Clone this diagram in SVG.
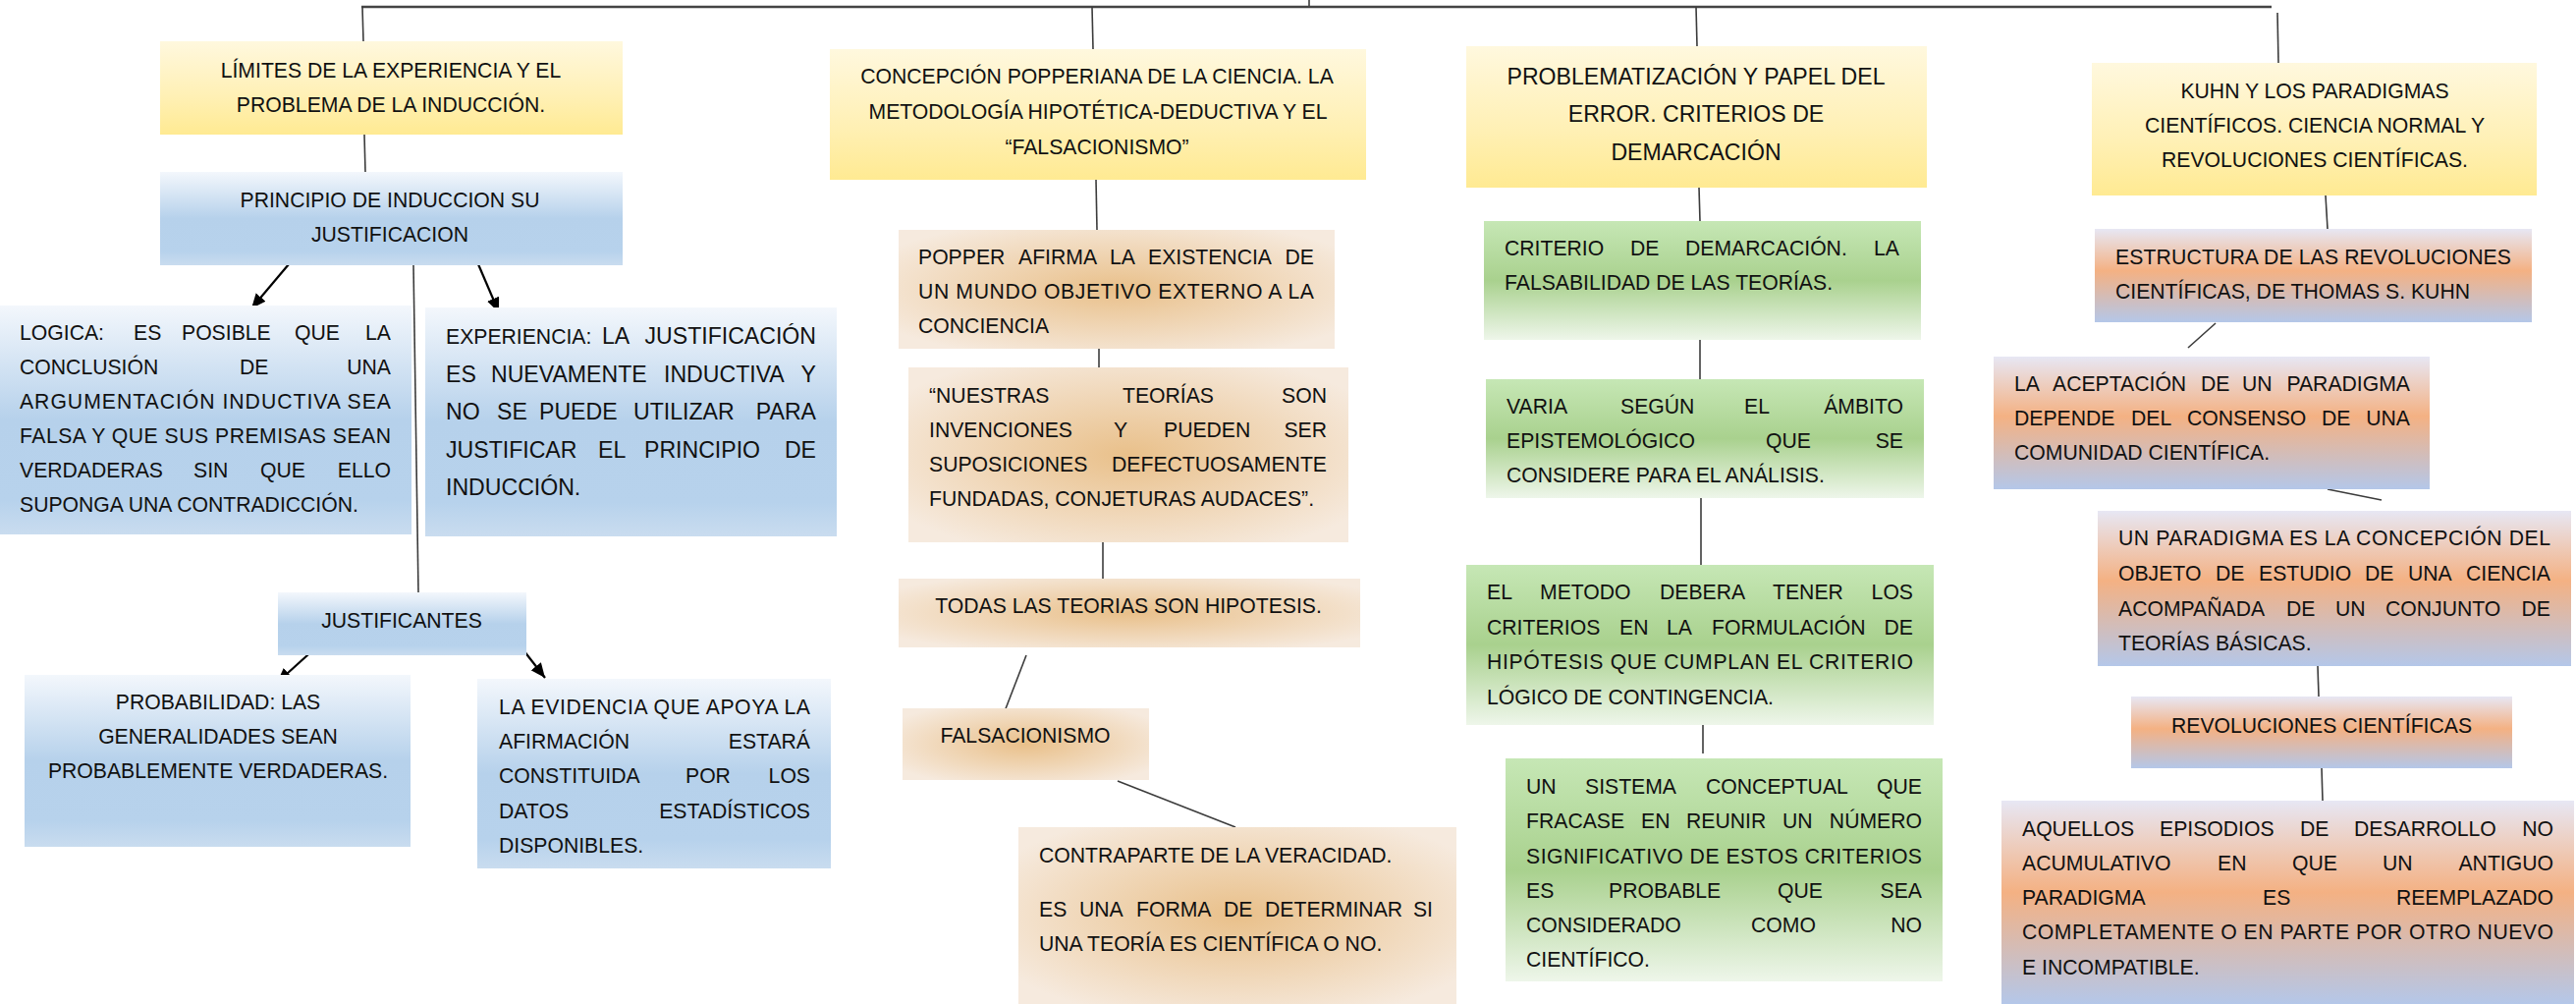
<svg xmlns="http://www.w3.org/2000/svg" width="2623" height="1022" viewBox="0 0 2623 1022">
<style>
text{font-family:"Liberation Sans",Arial,sans-serif;font-size:21.2px;fill:#111}
.b{font-size:23.1px}
.m{text-anchor:middle}
.e{text-anchor:end}
.c{stroke:#3c3c3c;stroke-width:1.6;fill:none}
.a{stroke:#000;stroke-width:2.2;fill:none;marker-end:url(#ah)}
</style>
<defs>
<marker id="ah" markerUnits="userSpaceOnUse" markerWidth="16" markerHeight="14" refX="15" refY="6.5" orient="auto">
<path d="M0,0 L15,6.5 L0,13 z" fill="#000"/>
</marker>
<linearGradient id="gy" x1="0" y1="0" x2="0" y2="1">
<stop offset="0" stop-color="#FFF8DE"/><stop offset="0.6" stop-color="#FFF0B4"/><stop offset="1" stop-color="#FFEA92"/>
</linearGradient>
<linearGradient id="gb" x1="0" y1="0" x2="0" y2="1">
<stop offset="0" stop-color="#F3F7FC"/><stop offset="0.5" stop-color="#B6D1EB"/><stop offset="0.85" stop-color="#B7D2EC"/><stop offset="1" stop-color="#C9DCEF"/>
</linearGradient>
<radialGradient id="gt" cx="0.5" cy="0.5" r="0.62">
<stop offset="0" stop-color="#E9C08A"/><stop offset="1" stop-color="#F6EADE"/>
</radialGradient>
<linearGradient id="gg" x1="0" y1="0" x2="0" y2="1">
<stop offset="0" stop-color="#C6E7B5"/><stop offset="0.5" stop-color="#A9D18E"/><stop offset="1" stop-color="#EEF6EA"/>
</linearGradient>
<linearGradient id="gk" x1="0" y1="0" x2="0" y2="1">
<stop offset="0" stop-color="#E7E7F4"/><stop offset="0.45" stop-color="#F4B183"/><stop offset="1" stop-color="#B4C7E9"/>
</linearGradient>
</defs>
<rect width="2623" height="1022" fill="#fff"/>

<g id="connectors">
<line x1="368" y1="7" x2="2313" y2="7" stroke="#444" stroke-width="2.6"/>
<line class="c" x1="1333" y1="0" x2="1333" y2="6"/>
<line class="c" x1="369" y1="7" x2="370" y2="42"/>
<line class="c" x1="1112" y1="7" x2="1113" y2="50"/>
<line class="c" x1="1727" y1="7" x2="1728" y2="47"/>
<line class="c" x1="2319" y1="13" x2="2320" y2="64"/>
<line class="c" x1="371" y1="137" x2="372" y2="175"/>
<line class="a" x1="294" y1="269" x2="256" y2="314"/>
<line class="a" x1="487" y1="269" x2="508" y2="318"/>
<line class="c" x1="421" y1="270" x2="426" y2="603"/>
<line class="a" x1="323" y1="658" x2="282" y2="695"/>
<line class="a" x1="530" y1="658" x2="555" y2="690"/>
<line class="c" x1="1116" y1="183" x2="1117" y2="234"/>
<line class="c" x1="1119" y1="355" x2="1119" y2="374"/>
<line class="c" x1="1123" y1="552" x2="1123" y2="589"/>
<line class="c" x1="1045" y1="667" x2="1023" y2="724"/>
<line class="c" x1="1138" y1="795" x2="1258" y2="842"/>
<line class="c" x1="1730" y1="191" x2="1731" y2="225"/>
<line class="c" x1="1731" y1="346" x2="1731" y2="386"/>
<line class="c" x1="1732" y1="507" x2="1732" y2="575"/>
<line class="c" x1="1734" y1="738" x2="1734" y2="767"/>
<line class="c" x1="2368" y1="199" x2="2370" y2="233"/>
<line class="c" x1="2256" y1="329" x2="2228" y2="354"/>
<line class="c" x1="2370" y1="498" x2="2425" y2="509"/>
<line class="c" x1="2360" y1="678" x2="2361" y2="709"/>
<line class="c" x1="2364" y1="782" x2="2365" y2="815"/>
</g>

<g id="n-limites">
<rect x="163" y="42" width="471" height="95" fill="url(#gy)"/>
<text class="m" x="398" y="79">LÍMITES DE LA EXPERIENCIA Y EL</text>
<text class="m" x="398" y="114">PROBLEMA DE LA INDUCCIÓN.</text>
</g>

<g id="n-principio">
<rect x="163" y="175" width="471" height="95" fill="url(#gb)"/>
<text class="m" x="397" y="211">PRINCIPIO DE INDUCCION SU</text>
<text class="m" x="397" y="246">JUSTIFICACION</text>
</g>

<g id="n-logica">
<rect x="0" y="311" width="419" height="233" fill="url(#gb)"/>
<text y="346"><tspan x="20">LOGICA:</tspan><tspan x="136">ES</tspan><tspan x="185">POSIBLE</tspan><tspan x="300">QUE</tspan><tspan x="398" class="e">LA</tspan></text>
<text y="381"><tspan x="20">CONCLUSIÓN</tspan><tspan x="244">DE</tspan><tspan x="398" class="e">UNA</tspan></text>
<text x="20" y="416" textLength="378" lengthAdjust="spacing">ARGUMENTACIÓN INDUCTIVA SEA</text>
<text x="20" y="451" textLength="378" lengthAdjust="spacing">FALSA Y QUE SUS PREMISAS SEAN</text>
<text y="486"><tspan x="20">VERDADERAS</tspan><tspan x="197">SIN</tspan><tspan x="265">QUE</tspan><tspan x="398" class="e">ELLO</tspan></text>
<text x="20" y="521">SUPONGA UNA CONTRADICCIÓN.</text>
</g>

<g id="n-experiencia">
<rect x="433" y="313" width="419" height="233" fill="url(#gb)"/>
<text y="350"><tspan x="454">EXPERIENCIA:</tspan><tspan x="613" class="b">LA</tspan><tspan x="831" class="b e">JUSTIFICACIÓN</tspan></text>
<text class="b" y="389"><tspan x="454">ES</tspan><tspan x="500">NUEVAMENTE</tspan><tspan x="676">INDUCTIVA</tspan><tspan x="831" class="e">Y</tspan></text>
<text class="b" y="427"><tspan x="454">NO</tspan><tspan x="506">SE</tspan><tspan x="549">PUEDE</tspan><tspan x="645">UTILIZAR</tspan><tspan x="831" class="e">PARA</tspan></text>
<text class="b" y="466"><tspan x="454">JUSTIFICAR</tspan><tspan x="609">EL</tspan><tspan x="656">PRINCIPIO</tspan><tspan x="831" class="e">DE</tspan></text>
<text class="b" x="454" y="504">INDUCCIÓN.</text>
</g>

<g id="n-justificantes">
<rect x="283" y="603" width="253" height="64" fill="url(#gb)"/>
<text class="m" x="409" y="639">JUSTIFICANTES</text>
</g>

<g id="n-probabilidad">
<rect x="25" y="687" width="393" height="175" fill="url(#gb)"/>
<text class="m" x="222" y="722">PROBABILIDAD: LAS</text>
<text class="m" x="222" y="757">GENERALIDADES SEAN</text>
<text class="m" x="222" y="792">PROBABLEMENTE VERDADERAS.</text>
</g>

<g id="n-evidencia">
<rect x="486" y="691" width="360" height="193" fill="url(#gb)"/>
<text x="508" y="727" textLength="317" lengthAdjust="spacing">LA EVIDENCIA QUE APOYA LA</text>
<text y="762"><tspan x="508">AFIRMACIÓN</tspan><tspan x="825" class="e">ESTARÁ</tspan></text>
<text y="797"><tspan x="508">CONSTITUIDA</tspan><tspan x="698">POR</tspan><tspan x="825" class="e">LOS</tspan></text>
<text y="833"><tspan x="508">DATOS</tspan><tspan x="825" class="e">ESTADÍSTICOS</tspan></text>
<text x="508" y="868">DISPONIBLES.</text>
</g>

<g id="n-concepcion">
<rect x="845" y="50" width="546" height="133" fill="url(#gy)"/>
<text class="m" x="1117" y="85">CONCEPCIÓN POPPERIANA DE LA CIENCIA. LA</text>
<text class="m" x="1118" y="121">METODOLOGÍA HIPOTÉTICA-DEDUCTIVA Y EL</text>
<text class="m" x="1117" y="157">“FALSACIONISMO”</text>
</g>

<g id="n-popper">
<rect x="915" y="234" width="444" height="121" fill="url(#gt)"/>
<text y="269"><tspan x="935">POPPER</tspan><tspan x="1037">AFIRMA</tspan><tspan x="1130">LA</tspan><tspan x="1169">EXISTENCIA</tspan><tspan x="1338" class="e">DE</tspan></text>
<text x="935" y="304" textLength="403" lengthAdjust="spacing">UN MUNDO OBJETIVO EXTERNO A LA</text>
<text x="935" y="339">CONCIENCIA</text>
</g>

<g id="n-nuestras">
<rect x="925" y="374" width="448" height="178" fill="url(#gt)"/>
<text y="410"><tspan x="946">“NUESTRAS</tspan><tspan x="1143">TEORÍAS</tspan><tspan x="1351" class="e">SON</tspan></text>
<text y="445"><tspan x="946">INVENCIONES</tspan><tspan x="1134">Y</tspan><tspan x="1185">PUEDEN</tspan><tspan x="1351" class="e">SER</tspan></text>
<text y="480"><tspan x="946">SUPOSICIONES</tspan><tspan x="1351" class="e">DEFECTUOSAMENTE</tspan></text>
<text x="946" y="515">FUNDADAS, CONJETURAS AUDACES”.</text>
</g>

<g id="n-todas">
<rect x="915" y="589" width="470" height="70" fill="url(#gt)"/>
<text class="m" x="1149" y="624">TODAS LAS TEORIAS SON HIPOTESIS.</text>
</g>

<g id="n-falsacionismo">
<rect x="919" y="721" width="251" height="73" fill="url(#gt)"/>
<text class="m" x="1044" y="756">FALSACIONISMO</text>
</g>

<g id="n-contraparte">
<rect x="1037" y="842" width="446" height="180" fill="url(#gt)"/>
<text x="1058" y="878">CONTRAPARTE DE LA VERACIDAD.</text>
<text y="933"><tspan x="1058">ES</tspan><tspan x="1099">UNA</tspan><tspan x="1157">FORMA</tspan><tspan x="1246">DE</tspan><tspan x="1288">DETERMINAR</tspan><tspan x="1459" class="e">SI</tspan></text>
<text x="1058" y="968">UNA TEORÍA ES CIENTÍFICA O NO.</text>
</g>

<g id="n-problematizacion">
<rect x="1493" y="47" width="469" height="144" fill="url(#gy)"/>
<text class="b m" x="1727" y="86">PROBLEMATIZACIÓN Y PAPEL DEL</text>
<text class="b m" x="1727" y="124">ERROR. CRITERIOS DE</text>
<text class="b m" x="1727" y="163">DEMARCACIÓN</text>
</g>

<g id="n-criterio">
<rect x="1511" y="225" width="445" height="121" fill="url(#gg)"/>
<text y="260"><tspan x="1532">CRITERIO</tspan><tspan x="1660">DE</tspan><tspan x="1716">DEMARCACIÓN.</tspan><tspan x="1934" class="e">LA</tspan></text>
<text x="1532" y="295">FALSABILIDAD DE LAS TEORÍAS.</text>
</g>

<g id="n-varia">
<rect x="1513" y="386" width="446" height="121" fill="url(#gg)"/>
<text y="421"><tspan x="1534">VARIA</tspan><tspan x="1650">SEGÚN</tspan><tspan x="1776">EL</tspan><tspan x="1938" class="e">ÁMBITO</tspan></text>
<text y="456"><tspan x="1534">EPISTEMOLÓGICO</tspan><tspan x="1798">QUE</tspan><tspan x="1938" class="e">SE</tspan></text>
<text x="1534" y="491">CONSIDERE PARA EL ANÁLISIS.</text>
</g>

<g id="n-metodo">
<rect x="1493" y="575" width="476" height="163" fill="url(#gg)"/>
<text y="610"><tspan x="1514">EL</tspan><tspan x="1568">METODO</tspan><tspan x="1690">DEBERA</tspan><tspan x="1805">TENER</tspan><tspan x="1948" class="e">LOS</tspan></text>
<text y="646"><tspan x="1514">CRITERIOS</tspan><tspan x="1649">EN</tspan><tspan x="1697">LA</tspan><tspan x="1743">FORMULACIÓN</tspan><tspan x="1948" class="e">DE</tspan></text>
<text x="1514" y="681" textLength="434" lengthAdjust="spacing">HIPÓTESIS QUE CUMPLAN EL CRITERIO</text>
<text x="1514" y="717">LÓGICO DE CONTINGENCIA.</text>
</g>

<g id="n-sistema">
<rect x="1533" y="772" width="445" height="227" fill="url(#gg)"/>
<text y="808"><tspan x="1554">UN</tspan><tspan x="1614">SISTEMA</tspan><tspan x="1737">CONCEPTUAL</tspan><tspan x="1957" class="e">QUE</tspan></text>
<text y="843"><tspan x="1554">FRACASE</tspan><tspan x="1671">EN</tspan><tspan x="1717">REUNIR</tspan><tspan x="1815">UN</tspan><tspan x="1957" class="e">NÚMERO</tspan></text>
<text x="1554" y="879" textLength="403" lengthAdjust="spacing">SIGNIFICATIVO DE ESTOS CRITERIOS</text>
<text y="914"><tspan x="1554">ES</tspan><tspan x="1638">PROBABLE</tspan><tspan x="1810">QUE</tspan><tspan x="1957" class="e">SEA</tspan></text>
<text y="949"><tspan x="1554">CONSIDERADO</tspan><tspan x="1783">COMO</tspan><tspan x="1957" class="e">NO</tspan></text>
<text x="1554" y="984">CIENTÍFICO.</text>
</g>

<g id="n-kuhn">
<rect x="2130" y="64" width="453" height="135" fill="url(#gy)"/>
<text class="m" x="2357" y="100">KUHN Y LOS PARADIGMAS</text>
<text class="m" x="2357" y="135">CIENTÍFICOS. CIENCIA NORMAL Y</text>
<text class="m" x="2357" y="170">REVOLUCIONES CIENTÍFICAS.</text>
</g>

<g id="n-estructura">
<rect x="2133" y="233" width="445" height="95" fill="url(#gk)"/>
<text x="2154" y="269" textLength="403" lengthAdjust="spacing">ESTRUCTURA DE LAS REVOLUCIONES</text>
<text x="2154" y="304">CIENTÍFICAS, DE THOMAS S. KUHN</text>
</g>

<g id="n-aceptacion">
<rect x="2030" y="363" width="444" height="135" fill="url(#gk)"/>
<text y="398"><tspan x="2051">LA</tspan><tspan x="2090">ACEPTACIÓN</tspan><tspan x="2241">DE</tspan><tspan x="2283">UN</tspan><tspan x="2454" class="e">PARADIGMA</tspan></text>
<text y="433"><tspan x="2051">DEPENDE</tspan><tspan x="2170">DEL</tspan><tspan x="2227">CONSENSO</tspan><tspan x="2364">DE</tspan><tspan x="2454" class="e">UNA</tspan></text>
<text x="2051" y="468">COMUNIDAD CIENTÍFICA.</text>
</g>

<g id="n-paradigma">
<rect x="2136" y="520" width="482" height="158" fill="url(#gk)"/>
<text x="2157" y="555" textLength="440" lengthAdjust="spacing">UN PARADIGMA ES LA CONCEPCIÓN DEL</text>
<text y="591"><tspan x="2157">OBJETO</tspan><tspan x="2256">DE</tspan><tspan x="2300">ESTUDIO</tspan><tspan x="2408">DE</tspan><tspan x="2452">UNA</tspan><tspan x="2597" class="e">CIENCIA</tspan></text>
<text y="627"><tspan x="2157">ACOMPAÑADA</tspan><tspan x="2328">DE</tspan><tspan x="2378">UN</tspan><tspan x="2429">CONJUNTO</tspan><tspan x="2597" class="e">DE</tspan></text>
<text x="2157" y="662">TEORÍAS BÁSICAS.</text>
</g>

<g id="n-revoluciones">
<rect x="2170" y="709" width="388" height="73" fill="url(#gk)"/>
<text class="m" x="2364" y="746">REVOLUCIONES CIENTÍFICAS</text>
</g>

<g id="n-aquellos">
<rect x="2038" y="815" width="583" height="207" fill="url(#gk)"/>
<text y="851"><tspan x="2059">AQUELLOS</tspan><tspan x="2199">EPISODIOS</tspan><tspan x="2342">DE</tspan><tspan x="2397">DESARROLLO</tspan><tspan x="2600" class="e">NO</tspan></text>
<text y="886"><tspan x="2059">ACUMULATIVO</tspan><tspan x="2258">EN</tspan><tspan x="2334">QUE</tspan><tspan x="2426">UN</tspan><tspan x="2600" class="e">ANTIGUO</tspan></text>
<text y="921"><tspan x="2059">PARADIGMA</tspan><tspan x="2304">ES</tspan><tspan x="2600" class="e">REEMPLAZADO</tspan></text>
<text x="2059" y="956" textLength="541" lengthAdjust="spacing">COMPLETAMENTE O EN PARTE POR OTRO NUEVO</text>
<text x="2059" y="992">E INCOMPATIBLE.</text>
</g>
</svg>
